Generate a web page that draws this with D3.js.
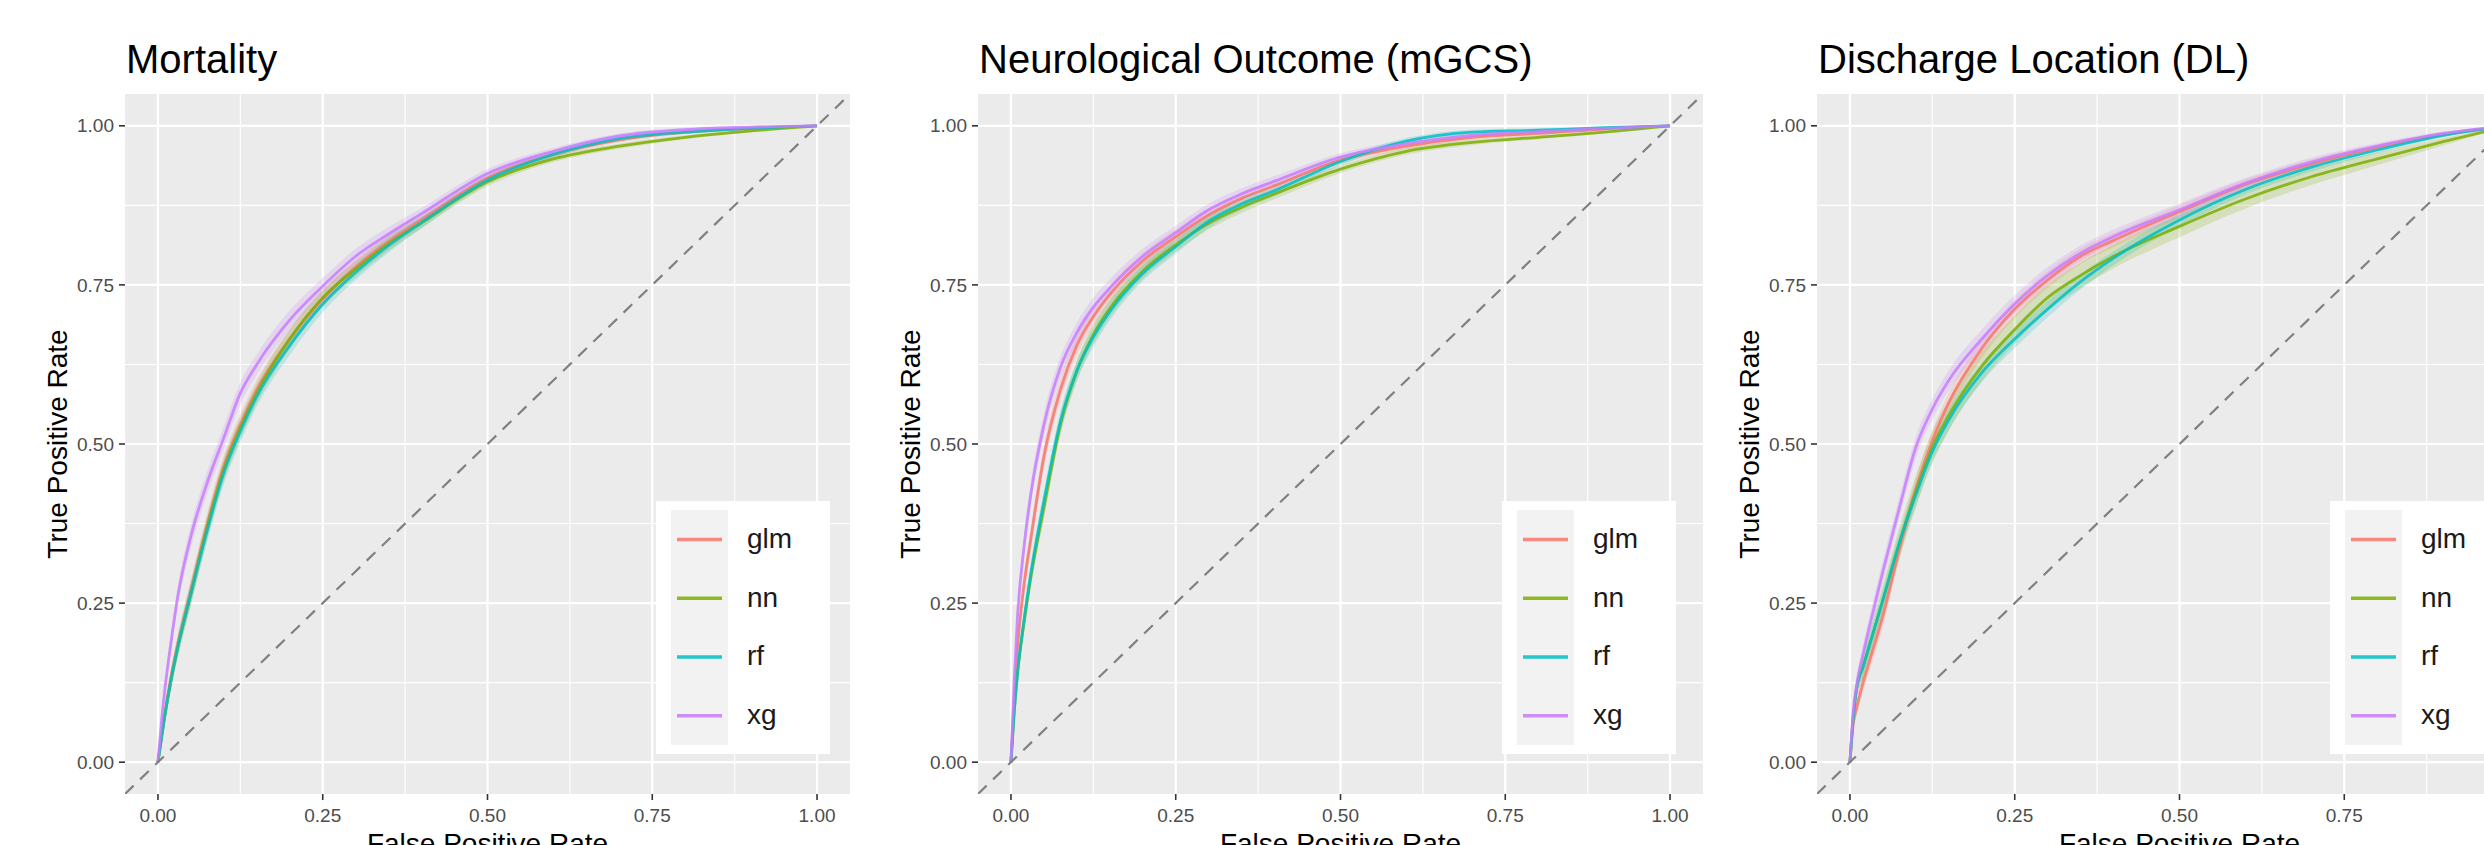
<!DOCTYPE html>
<html>
<head>
<meta charset="utf-8">
<script src="https://cdn.jsdelivr.net/npm/d3@7"></script>
<style>
  html, body { margin: 0; padding: 0; background: #fff; overflow: hidden; }
  svg { display: block; font-family: "Liberation Sans", Arial, sans-serif; }
</style>
</head>
<body>
<svg id="roc" width="2484" height="845"></svg>
<script>
// ---- data ----
var fpr = [0, 0.005, 0.01, 0.02, 0.03, 0.05, 0.075, 0.1, 0.125, 0.15, 0.2, 0.25, 0.3, 0.35, 0.4, 0.5, 0.6, 0.7, 0.8, 0.9, 1];
var models = ["glm", "nn", "rf", "xg"];
var titles = ["Mortality", "Neurological Outcome (mGCS)", "Discharge Location (DL)"];
var ticks = [0, 0.25, 0.5, 0.75, 1];
var minorTicks = [0.125, 0.375, 0.625, 0.875];

// Mortality
var mortGlm = [0, 0.04, 0.075, 0.135, 0.185, 0.27, 0.375, 0.465, 0.53, 0.585, 0.665, 0.728, 0.778, 0.818, 0.852, 0.918, 0.955, 0.978, 0.99, 0.996, 1];
var mortNn  = [0, 0.035, 0.07, 0.13, 0.18, 0.265, 0.37, 0.46, 0.525, 0.58, 0.665, 0.73, 0.775, 0.815, 0.848, 0.912, 0.948, 0.968, 0.982, 0.992, 1];
var mortRf  = [0, 0.035, 0.07, 0.13, 0.18, 0.265, 0.365, 0.455, 0.52, 0.575, 0.655, 0.72, 0.77, 0.812, 0.848, 0.915, 0.955, 0.98, 0.99, 0.996, 1];
var mortXg  = [0, 0.06, 0.11, 0.19, 0.26, 0.355, 0.44, 0.51, 0.58, 0.625, 0.695, 0.748, 0.795, 0.83, 0.862, 0.925, 0.96, 0.984, 0.994, 0.998, 1];
var mortBand = [0, 0.006, 0.01, 0.014, 0.016, 0.018, 0.018, 0.018, 0.017, 0.016, 0.015, 0.013, 0.012, 0.011, 0.009, 0.007, 0.005, 0.004, 0.003, 0.002, 0];

// Neurological outcome (mGCS)
var gcsGlm = [0, 0.1, 0.18, 0.28, 0.35, 0.48, 0.585, 0.655, 0.7, 0.735, 0.788, 0.826, 0.86, 0.886, 0.906, 0.946, 0.968, 0.982, 0.988, 0.995, 1];
var gcsNn  = [0, 0.08, 0.14, 0.22, 0.29, 0.4, 0.53, 0.615, 0.672, 0.713, 0.772, 0.813, 0.847, 0.872, 0.893, 0.932, 0.96, 0.974, 0.982, 0.99, 1];
var gcsRf  = [0, 0.08, 0.14, 0.225, 0.295, 0.41, 0.535, 0.615, 0.668, 0.708, 0.768, 0.81, 0.85, 0.877, 0.898, 0.944, 0.976, 0.99, 0.993, 0.997, 1];
var gcsXg  = [0, 0.13, 0.23, 0.34, 0.42, 0.53, 0.62, 0.675, 0.715, 0.745, 0.795, 0.832, 0.868, 0.893, 0.913, 0.951, 0.972, 0.985, 0.991, 0.996, 1];
var gcsBand = [0, 0.008, 0.012, 0.016, 0.018, 0.018, 0.017, 0.016, 0.015, 0.014, 0.012, 0.011, 0.01, 0.009, 0.008, 0.006, 0.005, 0.004, 0.003, 0.002, 0];

// Discharge location (DL)
var dlGlm = [0, 0.06, 0.085, 0.125, 0.16, 0.23, 0.335, 0.43, 0.505, 0.565, 0.65, 0.712, 0.758, 0.795, 0.82, 0.865, 0.908, 0.94, 0.966, 0.986, 1];
var dlNn  = [0, 0.07, 0.115, 0.15, 0.185, 0.255, 0.345, 0.425, 0.495, 0.545, 0.622, 0.68, 0.73, 0.765, 0.795, 0.842, 0.885, 0.92, 0.948, 0.975, 1];
var dlRf  = [0, 0.07, 0.115, 0.15, 0.185, 0.255, 0.345, 0.42, 0.488, 0.538, 0.612, 0.665, 0.712, 0.755, 0.792, 0.852, 0.9, 0.935, 0.962, 0.985, 1];
var dlXg  = [0, 0.08, 0.12, 0.17, 0.215, 0.3, 0.4, 0.495, 0.555, 0.6, 0.665, 0.72, 0.765, 0.8, 0.826, 0.868, 0.91, 0.943, 0.968, 0.988, 1];
var dlBand   = [0, 0.008, 0.012, 0.015, 0.016, 0.017, 0.017, 0.017, 0.016, 0.016, 0.015, 0.014, 0.013, 0.012, 0.011, 0.01, 0.008, 0.007, 0.005, 0.003, 0];
var dlBandNn = [0, 0.01, 0.015, 0.02, 0.022, 0.024, 0.025, 0.025, 0.025, 0.024, 0.023, 0.022, 0.021, 0.02, 0.019, 0.017, 0.015, 0.013, 0.01, 0.006, 0];

var panels = [
  { title: titles[0], tpr: [mortGlm, mortNn, mortRf, mortXg], band: [mortBand, mortBand, mortBand, mortBand] },
  { title: titles[1], tpr: [gcsGlm, gcsNn, gcsRf, gcsXg], band: [gcsBand, gcsBand, gcsBand, gcsBand] },
  { title: titles[2], tpr: [dlGlm, dlNn, dlRf, dlXg], band: [dlBand, dlBandNn, dlBand, dlBand] }
];

// ---- layout ----
var panelLeft = [125, 978, 1817];
var legendLeft = [656, 1502, 2330];
var panelW = 725, panelTop = 94, panelBottom = 794;

var color = d3.scaleOrdinal().domain(models).range(["#F8766D", "#7CAE00", "#00BFC4", "#C77CFF"]);
var fmt = d3.format(".2f");
var svg = d3.select("#roc");

var y = d3.scaleLinear().domain([-0.05, 1.05]).range([panelBottom, panelTop]);

panels.forEach(function(p, k) {
  var left = panelLeft[k];
  var x = d3.scaleLinear().domain([-0.05, 1.05]).range([left, left + panelW]);
  var g = svg.append("g");

  // 面板背景和网格
  g.append("rect").attr("x", left).attr("y", panelTop)
    .attr("width", panelW).attr("height", panelBottom - panelTop).attr("fill", "#EBEBEB");
  g.selectAll(".minx").data(minorTicks).enter().append("line")
    .attr("x1", function(d) { return x(d); }).attr("x2", function(d) { return x(d); })
    .attr("y1", panelTop).attr("y2", panelBottom).attr("stroke", "#fff").attr("stroke-width", 1.1);
  g.selectAll(".miny").data(minorTicks).enter().append("line")
    .attr("y1", function(d) { return y(d); }).attr("y2", function(d) { return y(d); })
    .attr("x1", left).attr("x2", left + panelW).attr("stroke", "#fff").attr("stroke-width", 1.1);
  g.selectAll(".majx").data(ticks).enter().append("line")
    .attr("x1", function(d) { return x(d); }).attr("x2", function(d) { return x(d); })
    .attr("y1", panelTop).attr("y2", panelBottom).attr("stroke", "#fff").attr("stroke-width", 2.2);
  g.selectAll(".majy").data(ticks).enter().append("line")
    .attr("y1", function(d) { return y(d); }).attr("y2", function(d) { return y(d); })
    .attr("x1", left).attr("x2", left + panelW).attr("stroke", "#fff").attr("stroke-width", 2.2);

  // clip to the panel
  svg.append("clipPath").attr("id", "clip" + k).append("rect")
    .attr("x", left).attr("y", panelTop).attr("width", panelW).attr("height", panelBottom - panelTop);
  var plot = g.append("g").attr("clip-path", "url(#clip" + k + ")");

  var area = d3.area().curve(d3.curveMonotoneX)
    .x(function(d) { return x(d.f); })
    .y0(function(d) { return y(Math.max(0, d.t - d.b)); })
    .y1(function(d) { return y(Math.min(1, d.t + d.b)); });
  var line = d3.line().curve(d3.curveMonotoneX)
    .x(function(d) { return x(d.f); })
    .y(function(d) { return y(d.t); });

  var rows = models.map(function(m, i) {
    return fpr.map(function(f, j) { return { f: f, t: p.tpr[i][j], b: p.band[i][j] }; });
  });

  plot.selectAll(".band").data(rows).enter().append("path")
    .attr("d", area)
    .attr("fill", function(d, i) { return color(models[i]); })
    .attr("fill-opacity", 0.2);
  plot.selectAll(".roc").data(rows).enter().append("path")
    .attr("d", line)
    .attr("fill", "none")
    .attr("stroke", function(d, i) { return color(models[i]); })
    .attr("stroke-opacity", 0.85)
    .attr("stroke-width", 2.8);

  // 对角虚线
  plot.append("line")
    .attr("x1", x(-0.05)).attr("y1", y(-0.05)).attr("x2", x(1.05)).attr("y2", y(1.05))
    .attr("stroke", "#808080").attr("stroke-width", 2.2).attr("stroke-dasharray", "12,9");

  // axes
  g.selectAll(".tx").data(ticks).enter().append("line")
    .attr("x1", function(d) { return x(d); }).attr("x2", function(d) { return x(d); })
    .attr("y1", panelBottom).attr("y2", panelBottom + 6).attr("stroke", "#333").attr("stroke-width", 1.6);
  g.selectAll(".lx").data(ticks).enter().append("text")
    .attr("x", function(d) { return x(d); }).attr("y", 822)
    .attr("text-anchor", "middle").attr("font-size", 19).attr("fill", "#4D4D4D")
    .text(fmt);
  g.selectAll(".ty").data(ticks).enter().append("line")
    .attr("y1", function(d) { return y(d); }).attr("y2", function(d) { return y(d); })
    .attr("x1", left - 6).attr("x2", left).attr("stroke", "#333").attr("stroke-width", 1.6);
  g.selectAll(".ly").data(ticks).enter().append("text")
    .attr("x", left - 11).attr("y", function(d) { return y(d); })
    .attr("dy", "0.35em").attr("text-anchor", "end").attr("font-size", 19).attr("fill", "#4D4D4D")
    .text(fmt);

  g.append("text").attr("x", left + panelW / 2).attr("y", 853)
    .attr("text-anchor", "middle").attr("font-size", 28).attr("fill", "#000")
    .text("False Positive Rate");
  g.append("text")
    .attr("transform", "translate(" + (left - 58) + "," + ((panelTop + panelBottom) / 2) + ") rotate(-90)")
    .attr("text-anchor", "middle").attr("font-size", 28).attr("fill", "#000")
    .text("True Positive Rate");
  g.append("text").attr("x", left + 1).attr("y", 73)
    .attr("font-size", 40).attr("fill", "#000")
    .text(p.title);

  // 图例
  var lg = g.append("g").attr("transform", "translate(" + legendLeft[k] + ",501)");
  lg.append("rect").attr("width", 174).attr("height", 253).attr("fill", "#fff");
  lg.append("rect").attr("x", 15).attr("y", 9).attr("width", 57).attr("height", 235).attr("fill", "#F2F2F2");
  var key = lg.selectAll(".key").data(models).enter().append("g")
    .attr("transform", function(d, i) { return "translate(0," + (9 + 58.75 * (i + 0.5)) + ")"; });
  key.append("line").attr("x1", 21).attr("x2", 66)
    .attr("stroke", function(d) { return color(d); }).attr("stroke-opacity", 0.85).attr("stroke-width", 3.5);
  key.append("text").attr("x", 91).attr("dy", "0.3em")
    .attr("font-size", 28).attr("fill", "#1A1A1A")
    .text(function(d) { return d; });
});
</script>
</body>
</html>
